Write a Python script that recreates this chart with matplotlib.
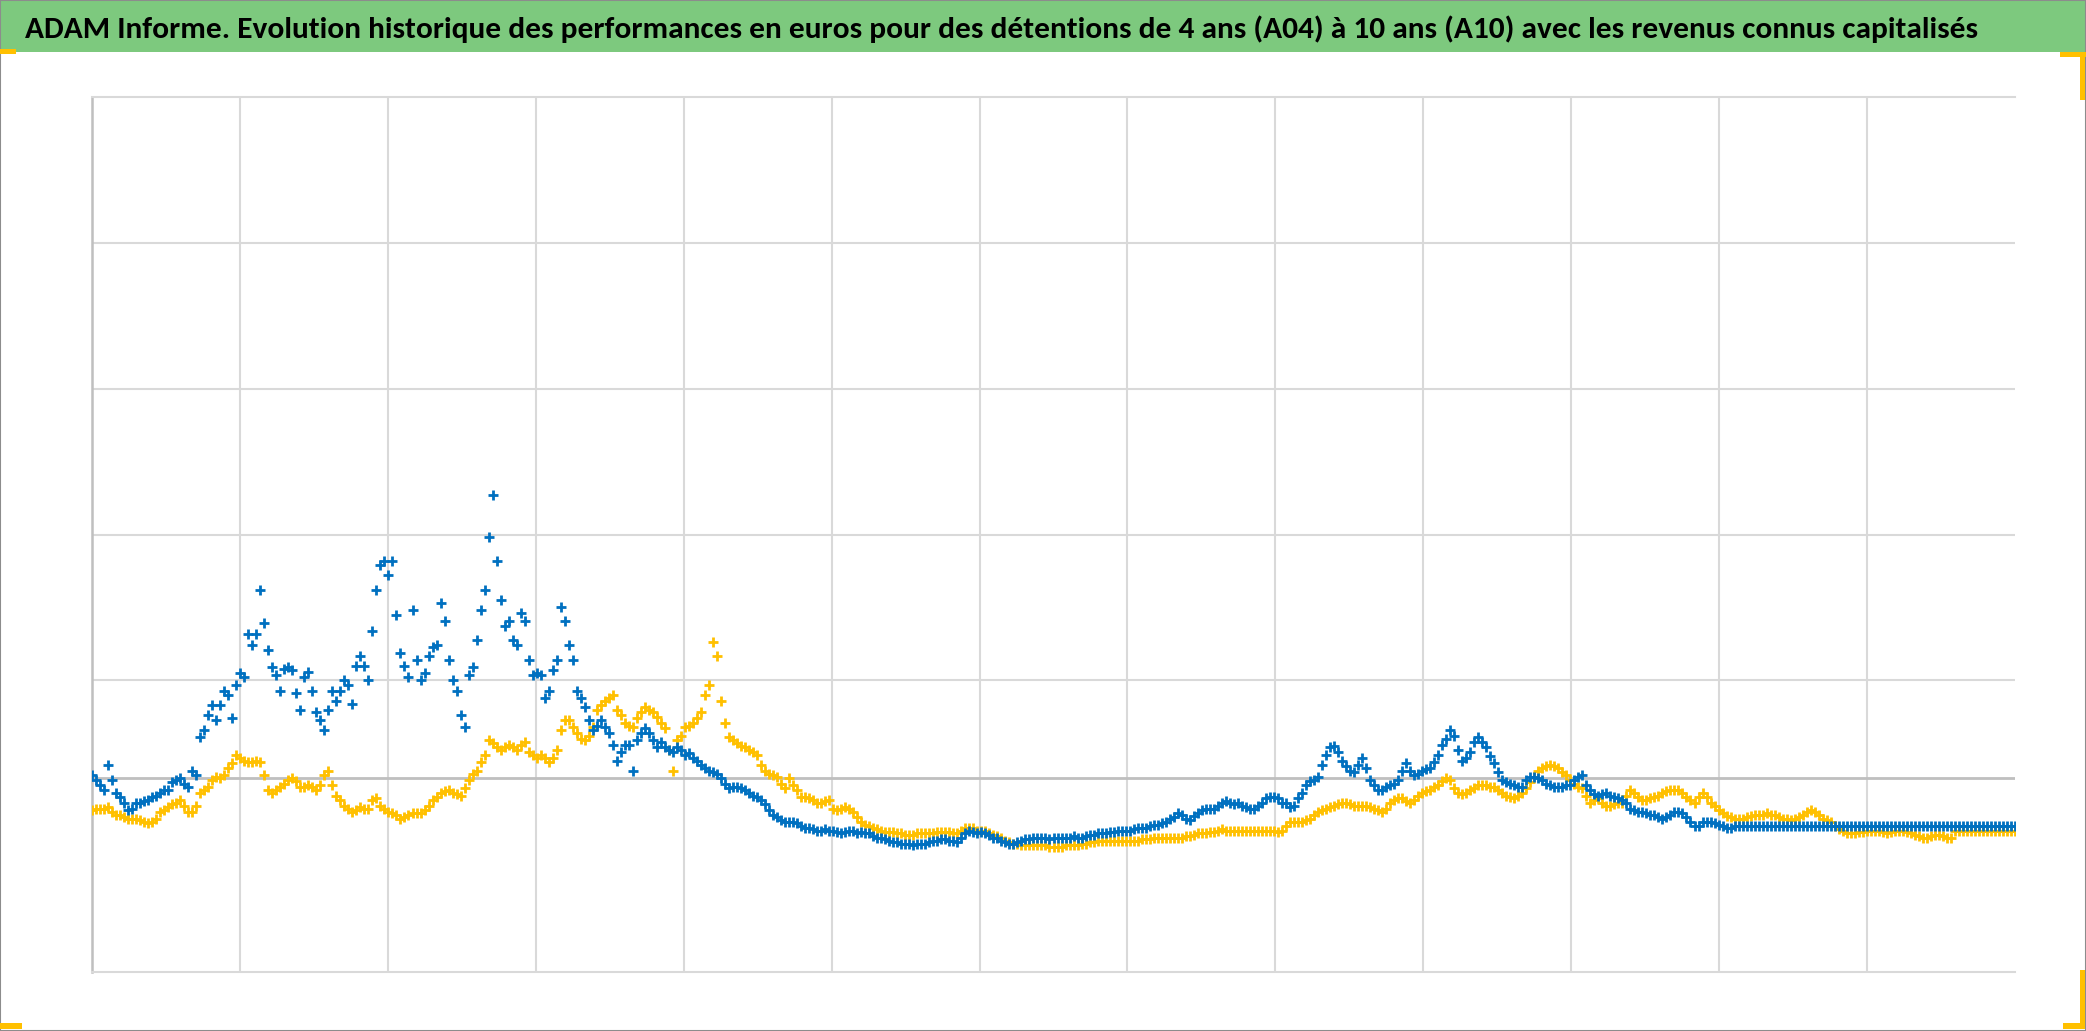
import numpy as np
import matplotlib
matplotlib.use("Agg")
import matplotlib.pyplot as plt
from matplotlib import font_manager as fm
from matplotlib.patches import Rectangle

# ADAM Informe - performances A04 / A10
# values in % (gridline step = 100)
# *_pts: readings on the main dates, *_mid: readings half way between them
title = ("ADAM Informe. Evolution historique des performances en euros pour des "
         "détentions de 4 ans (A04) à 10 ans (A10) avec les revenus connus capitalisés")

a04_pts = [35, 28, 42, 23, 16, 12, 16, 18, 21, 25,
           30, 33, 27, 35, 66, 83, 83, 90, 97, 102,
           124, 162, 121, 104, 108, 107, 80, 106, 78, 66,
           93, 93, 97, 110, 110, 134, 179, 172, 145, 110,
           148, 100, 117, 124, 141, 100, 76, 104, 128, 162,
           227, 155, 141, 124, 141, 104, 104, 93, 114, 141,
           114, 88, 73, 69, 68, 56, 51, 56, 59, 67,
           59, 58, 52, 54, 49, 47, 42, 38, 36, 29,
           27, 26, 23, 20, 15, 8, 4, 3, 2, -1,
           -2, -3, -3, -4, -4, -3, -4, -5, -8, -9,
           -11, -12, -12, -12, -12, -10, -9, -10, -11, -5,
           -4, -4, -6, -8, -11, -12, -10, -9, -8, -8,
           -8, -8, -8, -8, -7, -6, -5, -4, -3, -3,
           -2, -1, 0, 1, 3, 6, 8, 4, 9, 12,
           12, 16, 16, 16, 13, 12, 16, 20, 19, 16,
           14, 23, 31, 34, 49, 55, 45, 38, 42, 40,
           28, 25, 28, 32, 43, 35, 38, 40, 49, 60,
           62, 45, 51, 61, 54, 43, 32, 29, 27, 32,
           34, 32, 28, 27, 28, 32, 35, 25, 21, 23,
           20, 18, 12, 10, 9, 8, 5, 8, 10, 6,
           0, 3, 3, 1, -1, 0, 0, 0, 0, 0,
           0, 0, 0, 0, 0, 0, 0, 0, 0, 0,
           0, 0, 0, 0, 0, 0, 0, 0, 0, 0,
           0, 0, 0, 0, 0, 0, 0, 0, 0, 0,
           0]

a04_mid = [32, 25, 32, 20, 11, 16, 17, 20, 23, 25,
           32, 29, 38, 61, 76, 73, 93, 74, 105, 132,
           132, 139, 109, 93, 109, 91, 102, 93, 73, 80,
           86, 100, 84, 117, 100, 162, 182, 182, 119, 102,
           114, 105, 123, 153, 114, 93, 68, 109, 148, 198,
           182, 137, 128, 146, 114, 105, 88, 107, 150, 124,
           93, 82, 66, 73, 64, 45, 56, 38, 64, 64,
           54, 54, 51, 52, 50, 45, 40, 37, 33, 26,
           27, 25, 21, 18, 11, 6, 3, 3, 0, -1,
           -3, -2, -3, -5, -3, -5, -5, -7, -8, -10,
           -11, -12, -13, -12, -11, -10, -9, -10, -8, -3,
           -5, -5, -8, -10, -12, -11, -9, -8, -8, -9,
           -8, -8, -7, -8, -6, -5, -5, -4, -3, -3,
           -1, -1, 1, 2, 5, 9, 5, 7, 11, 12,
           14, 17, 15, 14, 12, 14, 19, 20, 16, 13,
           19, 28, 32, 42, 54, 51, 41, 37, 47, 32,
           25, 27, 29, 38, 38, 36, 39, 44, 56, 66,
           52, 47, 58, 58, 48, 37, 30, 28, 27, 34,
           33, 29, 27, 27, 28, 34, 28, 22, 22, 21,
           19, 16, 11, 10, 8, 6, 6, 10, 9, 3,
           0, 3, 2, 0, -1, 0, 0, 0, 0, 0,
           0, 0, 0, 0, 0, 0, 0, 0, 0, 0,
           0, 0, 0, 0, 0, 0, 0, 0, 0, 0,
           0, 0, 0, 0, 0, 0, 0, 0, 0, 0]

a10_pts = [11, 12, 13, 8, 6, 5, 4, 2, 5, 11,
           15, 18, 10, 14, 25, 32, 33, 40, 49, 45,
           44, 44, 25, 25, 29, 33, 27, 28, 25, 35,
           28, 18, 12, 11, 12, 18, 14, 10, 8, 6,
           9, 9, 14, 20, 24, 23, 21, 32, 38, 49,
           57, 52, 56, 52, 58, 49, 49, 44, 52, 73,
           68, 60, 62, 80, 86, 90, 76, 69, 74, 82,
           78, 71, 52, 59, 68, 71, 78, 97, 117, 71,
           59, 55, 52, 49, 38, 35, 29, 33, 25, 20,
           18, 16, 18, 11, 13, 10, 3, 0, -2, -4,
           -4, -5, -6, -5, -5, -5, -4, -4, -5, -1,
           -1, -3, -5, -7, -10, -12, -13, -13, -13, -13,
           -14, -14, -13, -13, -12, -11, -10, -10, -10, -10,
           -10, -9, -9, -8, -8, -8, -8, -7, -5, -5,
           -4, -2, -3, -3, -3, -3, -3, -3, -4, 0,
           3, 3, 5, 10, 12, 14, 16, 15, 14, 14,
           12, 10, 16, 19, 17, 18, 23, 25, 28, 33,
           26, 22, 25, 28, 28, 27, 23, 20, 21, 26,
           34, 40, 42, 40, 35, 29, 26, 16, 19, 14,
           15, 16, 25, 20, 18, 20, 23, 25, 25, 20,
           16, 23, 16, 11, 7, 5, 5, 7, 8, 9,
           8, 5, 4, 6, 10, 10, 5, 3, -2, -5,
           -5, -4, -3, -3, -5, -3, -3, -5, -7, -8,
           -6, -7, -8, -3, -3, -3, -3, -3, -3, -3,
           -3]

a10_mid = [12, 12, 10, 8, 5, 5, 3, 3, 10, 13,
           16, 14, 10, 23, 27, 34, 35, 43, 47, 44,
           45, 35, 23, 27, 32, 31, 27, 27, 28, 38,
           21, 14, 10, 13, 12, 19, 12, 9, 5, 8,
           9, 11, 18, 23, 25, 22, 26, 36, 44, 59,
           54, 54, 54, 56, 51, 47, 47, 47, 66, 73,
           64, 59, 68, 83, 88, 80, 71, 68, 78, 80,
           75, 67, 38, 62, 69, 74, 90, 126, 86, 61,
           57, 54, 51, 42, 36, 34, 26, 28, 20, 19,
           16, 17, 12, 12, 12, 6, 1, -1, -3, -4,
           -5, -6, -6, -5, -5, -4, -4, -5, -3, -1,
           -3, -3, -6, -8, -11, -12, -13, -13, -13, -14,
           -14, -13, -13, -12, -11, -10, -10, -10, -10, -10,
           -10, -9, -8, -8, -8, -8, -7, -6, -5, -4,
           -3, -3, -3, -3, -3, -3, -3, -3, -3, 3,
           3, 4, 8, 11, 13, 15, 16, 14, 14, 13,
           11, 12, 18, 19, 16, 21, 24, 27, 31, 32,
           23, 23, 26, 28, 27, 25, 21, 19, 23, 30,
           38, 41, 41, 37, 32, 27, 21, 18, 16, 14,
           16, 21, 23, 18, 19, 21, 24, 25, 23, 18,
           20, 20, 14, 9, 6, 5, 6, 8, 8, 8,
           6, 5, 5, 8, 11, 8, 4, 0, -3, -5,
           -4, -3, -3, -4, -4, -3, -4, -6, -8, -7,
           -6, -8, -3, -3, -3, -3, -3, -3, -3, -3]

ref_level = 33


def merge(pts, mid):
    out = np.empty(len(pts) + len(mid))
    out[0::2] = pts
    out[1::2] = mid
    return out


perf_a04 = merge(a04_pts, a04_mid)
perf_a10 = merge(a10_pts, a10_mid)

# Calibri-like title font if there is one
try:
    fm.findfont("Carlito", fallback_to_default=False)
    title_font = dict(family=["Carlito", "DejaVu Sans"])
except ValueError:
    title_font = dict(family=["DejaVu Sans"], fontstretch="condensed")

W, H = 2086, 1031
fig = plt.figure(figsize=(W / 100, H / 100), dpi=100)


def box(x0, y0, w, h, **kw):
    # pixel box from the top-left corner
    r = Rectangle((x0 / W, 1 - (y0 + h) / H), w / W, h / H,
                  transform=fig.transFigure, lw=0, **kw)
    fig.add_artist(r)


# green title band
box(0, 0, W, 52, color="#7DC97E")
t = fig.text(25 / W, 1 - 38 / H, title, ha="left", va="baseline",
             fontsize=24, fontweight="bold", color="black", **title_font)
fig.canvas.draw()
bb = t.get_window_extent()
t.set_fontsize(24 * 1948 / bb.width)

ax = fig.add_axes([92 / W, 59 / H, 1923 / W, 875 / H])
x = np.linspace(0, 13, len(perf_a04))
ax.plot(x, perf_a10, ls="none", marker="+", ms=7.5, mew=2.0,
        color="#FFC000", zorder=3)
ax.plot(x, perf_a04, ls="none", marker="+", ms=7.5, mew=2.0,
        color="#0070C0", zorder=4)
ax.axhline(ref_level, color="#BFBFBF", lw=2, zorder=2)

ax.set_xlim(0, 13)
ax.set_ylim(-100, 500)
ax.set_xticks(np.arange(1, 13))
ax.set_yticks([100, 200, 300, 400])
ax.grid(True, color="#D9D9D9", lw=1.5)
ax.set_axisbelow(True)
ax.tick_params(length=0, labelbottom=False, labelleft=False)
for s in ["top", "bottom"]:
    ax.spines[s].set_color("#D9D9D9")
    ax.spines[s].set_linewidth(1.5)
ax.spines["right"].set_visible(False)
ax.spines["left"].set_color("#BFBFBF")
ax.spines["left"].set_linewidth(1.8)

# frame and orange corner marks
fig.add_artist(Rectangle((0, 0), 1, 1, transform=fig.transFigure, fill=False,
                         edgecolor="#8C8C8C", lw=1.5))
orange = "#FFC000"
box(0, 49, 16, 5, color=orange)
box(2060, 52, 26, 5, color=orange)
box(2080, 52, 5, 48, color=orange)
box(0, 1023, 22, 6, color=orange)
box(2063, 1023, 22, 6, color=orange)
box(2080, 970, 5, 59, color=orange)

fig.savefig("out.png", dpi=100)
